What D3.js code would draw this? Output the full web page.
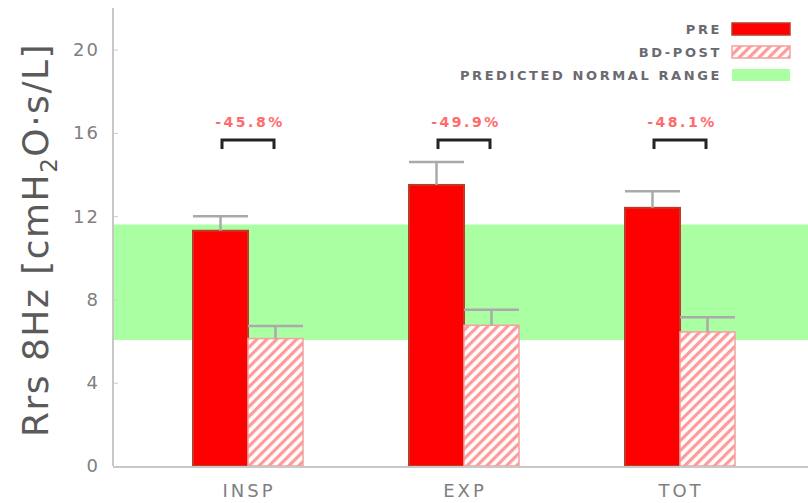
<!DOCTYPE html>
<html>
<head>
<meta charset="utf-8">
<script src="https://cdn.jsdelivr.net/npm/d3@7"></script>
<style>
  html, body { margin: 0; padding: 0; background: #fff; }
  svg { display: block; font-family: "DejaVu Sans", "Liberation Sans", sans-serif; }
</style>
</head>
<body>
<svg id="chart" width="808" height="503"></svg>
<script>
// Respiratory resistance at 8 Hz, pre vs post bronchodilator
const categories = ["INSP", "EXP", "TOT"];
const preValues = [11.3, 13.5, 12.4];
const preErrors = [0.7, 1.1, 0.8];
const postValues = [6.12, 6.76, 6.44];
const postErrors = [0.6, 0.75, 0.7];
const normalRange = [6.05, 11.6];
const yTicks = [0, 4, 8, 12, 16, 20];
const legendLabels = ["PRE", "BD-POST", "PREDICTED NORMAL RANGE"];

const svg = d3.select("#chart");
const W = 808, H = 503;
const left = 113, bottom = 466;

const y = d3.scaleLinear().domain([0, 22]).range([bottom, 8]);
const x = d3.scalePoint().domain(categories).range([248, 680]);
const barW = 55;

// hatch pattern for post-BD bars
const defs = svg.append("defs");
const pat = defs.append("pattern")
  .attr("id", "hatch").attr("patternUnits", "userSpaceOnUse")
  .attr("width", 7).attr("height", 7)
  .attr("patternTransform", "rotate(45)");
pat.append("rect").attr("width", 7).attr("height", 7).attr("fill", "#fff");
pat.append("rect").attr("width", 3.2).attr("height", 7).attr("fill", "#ff9a9a");

// normal range band
svg.append("rect")
  .attr("x", left).attr("width", W - left)
  .attr("y", y(normalRange[1])).attr("height", y(normalRange[0]) - y(normalRange[1]))
  .attr("fill", "#aaffa2");

// y axis
const yAxis = svg.append("g").attr("transform", `translate(${left},0)`)
  .call(d3.axisRight(y).tickValues(yTicks).tickSize(5).tickFormat(""));
yAxis.select(".domain").remove();
yAxis.selectAll(".tick line").attr("stroke", "#ccc").attr("stroke-width", 1);
svg.append("line").attr("x1", left).attr("x2", left).attr("y1", y(22)).attr("y2", bottom)
  .attr("stroke", "#c8c8c8").attr("stroke-width", 2);
svg.append("g").selectAll("text").data(yTicks).join("text")
  .attr("x", 100).attr("y", d => y(d)).attr("dy", "0.36em")
  .attr("text-anchor", "end").attr("font-size", 18).attr("letter-spacing", 2).attr("fill", "#808080")
  .text(d => d);

// y label
svg.append("text")
  .attr("transform", `translate(48,${(y(22) + bottom) / 2 + 3}) rotate(-90)`)
  .attr("text-anchor", "middle").attr("font-size", 36).attr("letter-spacing", 1.5).attr("fill", "#5a5a5a")
  .html('Rrs 8Hz [cmH<tspan font-size="23" dy="9">2</tspan><tspan dy="-9">O·s/L]</tspan>');

// bars
const groups = categories.map((c, i) => ({ c, pre: preValues[i], preE: preErrors[i], post: postValues[i], postE: postErrors[i] }));

svg.append("g").selectAll("rect").data(groups).join("rect")
  .attr("x", d => x(d.c) - barW).attr("width", barW)
  .attr("y", d => y(d.pre)).attr("height", d => bottom - y(d.pre))
  .attr("fill", "#ff0000").attr("stroke", "#c0392b").attr("stroke-width", 2);

svg.append("g").selectAll("rect").data(groups).join("rect")
  .attr("x", d => x(d.c)).attr("width", barW)
  .attr("y", d => y(d.post)).attr("height", d => bottom - y(d.post))
  .attr("fill", "url(#hatch)").attr("stroke", "#f4a0a0").attr("stroke-width", 1.5);

// error bars
function errorBars(data, cx, val, err) {
  const g = svg.append("g").attr("stroke", "#aaa").attr("stroke-width", 2.5);
  g.selectAll("line.v").data(data).join("line")
    .attr("x1", cx).attr("x2", cx)
    .attr("y1", d => y(val(d))).attr("y2", d => y(val(d) + err(d)));
  g.selectAll("line.h").data(data).join("line")
    .attr("x1", d => cx(d) - barW / 2).attr("x2", d => cx(d) + barW / 2)
    .attr("y1", d => y(val(d) + err(d))).attr("y2", d => y(val(d) + err(d)));
}
errorBars(groups, d => x(d.c) - barW / 2, d => d.pre, d => d.preE);
errorBars(groups, d => x(d.c) + barW / 2, d => d.post, d => d.postE);

// x axis
svg.append("line").attr("x1", left).attr("x2", W).attr("y1", bottom + 1).attr("y2", bottom + 1)
  .attr("stroke", "#c8c8c8").attr("stroke-width", 2);
svg.append("g").selectAll("text").data(categories).join("text")
  .attr("x", d => x(d) + 1).attr("y", 497)
  .attr("text-anchor", "middle").attr("font-size", 18).attr("letter-spacing", 3).attr("fill", "#808080")
  .text(d => d);

// brackets with percent change
const br = svg.append("g");
br.selectAll("path").data(groups).join("path")
  .attr("d", d => {
    const a = x(d.c) - 26, b = x(d.c) + 26, t = 140, s = 149;
    return `M${a},${s}V${t}H${b}V${s}`;
  })
  .attr("fill", "none").attr("stroke", "#222").attr("stroke-width", 3);
br.selectAll("text").data(groups).join("text")
  .attr("x", d => x(d.c) + 2).attr("y", 127)
  .attr("text-anchor", "middle").attr("font-size", 14).attr("font-weight", "bold")
  .attr("letter-spacing", 2.5).attr("fill", "#ff6a6a")
  .text(d => `-${((1 - d.post / d.pre) * 100).toFixed(1)}%`);

// legend
const fills = ["#ff0000", "url(#hatch)", "#aaffa2"];
const strokes = ["#c0392b", "#f4a0a0", "none"];
const lg = svg.append("g").selectAll("g").data(legendLabels).join("g")
  .attr("transform", (d, i) => `translate(0,${29 + i * 23})`);
lg.append("text").attr("x", 722).attr("dy", "0.35em")
  .attr("text-anchor", "end").attr("font-size", 13).attr("font-weight", "bold")
  .attr("letter-spacing", 2.6).attr("fill", "#6a6a70").text(d => d);
lg.append("rect").attr("x", 732).attr("y", -6).attr("width", 58).attr("height", 12)
  .attr("fill", (d, i) => fills[i]).attr("stroke", (d, i) => strokes[i]).attr("stroke-width", 1.5);
</script>
</body>
</html>
